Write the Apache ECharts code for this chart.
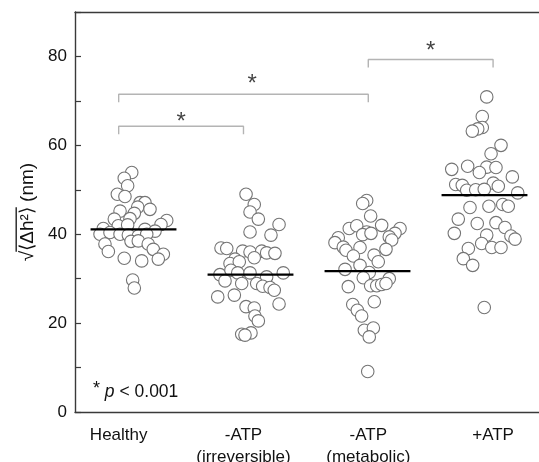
<!DOCTYPE html>
<html>
<head>
<meta charset="utf-8">
<script src="https://cdn.jsdelivr.net/npm/echarts@6/dist/echarts.min.js"></script>
<style>html,body{margin:0;padding:0;background:#fff;}#c{width:539px;height:462px;}</style>
</head>
<body>
<div id="c"></div>
<script>
// ---- data ----
const categories = ['Healthy', '-ATP\n(irreversible)', '-ATP\n(metabolic)', '+ATP'];
const yTickLabels = [0, 20, 40, 60, 80];
const yRoot = '√';
const yQuantity = '⟨Δh²⟩';
const yUnit = ' (nm)';

const healthyValues = [53.9,52.6,50.9,49.0,48.5,47.1,47.1,46.1,45.6,45.2,44.7,43.4,43.5,43.1,42.2,41.3,41.9,42.1,41.1,40.7,40.0,40.4,40.0,39.8,39.6,40.0,37.8,38.4,38.5,37.8,36.6,36.1,35.5,34.4,34.6,34.0,29.7,27.9];
const healthyJitter = [-0.015,-0.079,-0.05,-0.138,-0.073,0.056,0.098,0.036,0.141,-0.115,0.007,-0.164,-0.03,0.284,0.235,-0.258,-0.13,-0.05,0.098,0.184,-0.286,-0.201,-0.115,-0.044,0.041,0.113,-0.244,-0.021,0.041,0.126,0.169,-0.215,0.255,0.212,-0.079,0.07,-0.007,0.007];

const irreversibleValues = [49.0,46.7,45.0,43.4,42.2,40.5,39.8,36.9,36.8,36.2,36.0,36.2,35.8,35.7,34.4,34.7,33.4,33.8,30.9,31.9,31.3,31.3,30.4,31.3,29.5,28.9,28.9,28.3,28.0,27.4,25.9,26.3,24.3,23.7,23.4,21.6,20.5,17.5,17.8,17.3];
const irreversibleJitter = [-0.038,0.032,-0.004,0.067,0.244,-0.004,0.175,-0.252,-0.203,-0.067,-0.004,0.096,0.138,0.209,-0.132,0.032,-0.175,-0.096,-0.261,-0.167,-0.109,-0.004,0.138,0.28,-0.218,-0.075,0.053,0.104,0.167,0.203,-0.28,-0.138,0.244,-0.038,0.032,0.038,0.067,-0.075,0.004,-0.047];

const metabolicValues = [47.6,46.9,44.1,42.0,41.3,41.9,41.3,40.2,40.5,39.9,40.2,39.4,38.7,39.2,38.1,37.1,36.4,37.0,36.6,35.1,35.3,33.8,33.0,32.1,31.4,30.2,30.0,28.4,28.4,28.7,28.9,28.2,24.8,24.2,22.9,21.6,18.4,18.9,16.9,9.1];
const metabolicJitter = [-0.007,-0.041,0.027,0.121,-0.156,-0.092,0.278,0.235,-0.007,-0.041,0.03,0.186,0.207,-0.25,-0.278,-0.207,-0.184,-0.064,0.158,-0.121,0.056,0.092,-0.064,-0.192,0.015,-0.036,0.186,0.027,0.079,0.121,0.158,-0.164,0.058,-0.126,-0.087,-0.05,-0.027,0.05,0.015,0.002];

const plusAtpValues = [70.9,66.5,64.0,63.7,63.2,60.0,58.1,54.6,55.3,55.1,55.0,53.9,52.9,51.2,51.0,51.5,50.8,49.9,50.0,50.1,49.3,46.0,46.3,46.7,46.3,43.4,42.4,42.6,41.5,40.2,39.8,39.6,38.9,37.9,37.0,37.0,36.8,34.5,33.0,23.5];
const plusAtpJitter = [0.019,-0.019,-0.019,-0.058,-0.104,0.141,0.056,-0.28,-0.144,0.019,0.098,-0.044,0.238,-0.246,-0.19,0.075,0.118,-0.152,-0.075,-0.002,0.284,-0.124,0.038,0.156,0.203,-0.224,-0.062,0.098,0.175,-0.258,0.019,0.226,0.261,-0.024,0.062,0.141,-0.138,-0.181,-0.101,-0.002];

const meanValues = [41.1, 30.9, 31.7, 48.8];

// significance brackets: [from group, to group, height]
const bracketFrom = [1, 1, 3];
const bracketTo = [2, 3, 4];
const bracketHeight = [64.3, 71.5, 79.3];
const starX = [1.5, 2.07, 3.5];
const starY = [65.2, 73.8, 81.1];

// ---- build chart ----
const groupValues = [healthyValues, irreversibleValues, metabolicValues, plusAtpValues];
const groupJitter = [healthyJitter, irreversibleJitter, metabolicJitter, plusAtpJitter];
const MEAN_HALF = 0.367;
const BRACKET_DROP = 1.8;
const FONT = 'Liberation Sans, Arial, Helvetica, sans-serif';
const AXIS_COLOR = '#3a3a3a';
const NAME_SIZE = 19;

// measure text so the overline spans the quantity under the root sign
const mctx = document.createElement('canvas').getContext('2d');
mctx.font = NAME_SIZE + 'px ' + FONT;
const rootW = mctx.measureText(yRoot).width;
const quantW = mctx.measureText(yQuantity).width;
const unitW = mctx.measureText(yUnit).width;

const series = [];
groupValues.forEach((vals, g) => {
  series.push({
    type: 'scatter', xAxisIndex: 0, yAxisIndex: 0,
    symbol: 'circle', symbolSize: 12.5,
    itemStyle: { color: '#ffffff', borderColor: '#747474', borderWidth: 1.1, opacity: 1 },
    emphasis: { disabled: true },
    data: vals.map((v, i) => [g + 1 + groupJitter[g][i], v]),
    z: 2
  });
});
meanValues.forEach((m, g) => {
  series.push({
    type: 'line', xAxisIndex: 0, yAxisIndex: 0, symbol: 'none',
    lineStyle: { color: '#000', width: 2.2 },
    data: [[g + 1 - MEAN_HALF, m], [g + 1 + MEAN_HALF, m]],
    z: 5, silent: true
  });
});
bracketHeight.forEach((h, b) => {
  series.push({
    type: 'line', xAxisIndex: 1, yAxisIndex: 0, symbol: 'none',
    lineStyle: { color: '#b4b4b4', width: 1.4 },
    data: [[bracketFrom[b], h - BRACKET_DROP], [bracketFrom[b], h], [bracketTo[b], h], [bracketTo[b], h - BRACKET_DROP]],
    z: 3, silent: true
  });
});
series.push({
  type: 'scatter', xAxisIndex: 1, yAxisIndex: 0, symbolSize: 1,
  itemStyle: { color: 'rgba(0,0,0,0)' },
  label: { show: true, position: 'inside', formatter: '*', fontSize: 24, color: '#111', fontFamily: FONT },
  data: starX.map((x, i) => [x, starY[i]]),
  z: 6, silent: true
});

const option = {
  animation: false,
  backgroundColor: '#fff',
  title: {
    text: '{s|*} {i|p} < 0.001',
    left: 88, top: 375,
    textStyle: {
      rich: {
        s: { fontSize: 18, color: '#111', fontFamily: FONT, verticalAlign: 'top', padding: [0,0,6,0] },
        i: { fontSize: 17.5, color: '#111', fontStyle: 'italic', fontFamily: FONT },
      },
      fontSize: 17.5, color: '#111', fontFamily: FONT, fontWeight: 'normal'
    }
  },
  grid: { left: 75, top: 12, right: -4, bottom: 50, show: false, outerBoundsMode: 'none', containLabel: false },
  xAxis: [
    { type: 'value', min: 0.5, max: 4.5, show: false, gridIndex: 0 },
    {
      type: 'value', min: 0.65, max: 4.4, interval: 0.05, position: 'bottom', gridIndex: 0,
      axisLine: { show: true, lineStyle: { color: AXIS_COLOR, width: 1.4 } },
      axisTick: { show: false }, splitLine: { show: false },
      axisLabel: {
        interval: 0, showMinLabel: true, showMaxLabel: true, hideOverlap: false,
        margin: 12, fontSize: 17, lineHeight: 22, color: '#111', fontFamily: FONT,
        formatter: function (v) {
          const r = Math.round(v);
          if (Math.abs(v - r) < 1e-6 && r >= 1 && r <= categories.length) return categories[r - 1];
          return '';
        }
      }
    },
    {
      type: 'value', min: 0, max: 1, position: 'top', gridIndex: 0,
      axisLine: { show: true, lineStyle: { color: AXIS_COLOR, width: 1.4 } },
      axisTick: { show: false }, axisLabel: { show: false }, splitLine: { show: false }
    }
  ],
  yAxis: {
    type: 'value', min: 0, max: 90, interval: 10,
    name: '{gap|}{bar|}{tail|}\n{t|' + yRoot + yQuantity + yUnit + '}',
    nameLocation: 'middle', nameGap: 36, nameRotate: 90,
    nameTextStyle: {
      fontSize: NAME_SIZE, color: '#111', fontFamily: FONT, align: 'center',
      rich: {
        gap: { width: rootW - 1, height: 1.3, lineHeight: 3 },
        bar: { width: quantW + 1, height: 1.3, lineHeight: 3, backgroundColor: '#111' },
        tail: { width: unitW, height: 1.3, lineHeight: 3 },
        t: { fontSize: NAME_SIZE, fontFamily: FONT, color: '#111', lineHeight: 20 }
      }
    },
    axisLine: { show: true, lineStyle: { color: AXIS_COLOR, width: 1.4 } },
    axisTick: { show: true, inside: true, length: 6, lineStyle: { color: AXIS_COLOR, width: 1.2 } },
    splitLine: { show: false },
    axisLabel: {
      margin: 8, fontSize: 17, color: '#111', fontFamily: FONT,
      formatter: function (v) { return yTickLabels.indexOf(v) >= 0 ? String(v) : ''; }
    }
  },
  series: series
};
const chart = echarts.init(document.getElementById('c'), null, { renderer: 'canvas' });
chart.setOption(option);
</script>
</body>
</html>
